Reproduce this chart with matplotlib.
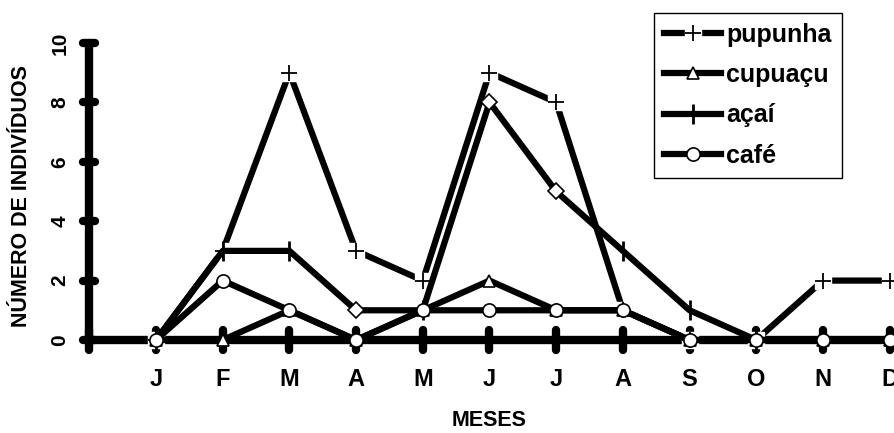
import matplotlib.pyplot as plt
from matplotlib.markers import MarkerStyle

months = ["J", "F", "M", "A", "M", "J", "J", "A", "S", "O", "N", "D"]
pupunha = [0, 3, 9, 3, 2, 9, 8, 1, 0, 0, 2, 2]
cupuacu = [0, 0, 1, 0, 1, 2, 1, 1, 0, 0, 0, 0]
acai = [0, 3, 3, 1, 1, 8, 5, 3, 1, 0, 0, 0]
cafe = [0, 2, 1, 0, 1, 1, 1, 1, 0, 0, 0, 0]
yticks = [0, 2, 4, 6, 8, 10]

# points of the açaí line drawn with a diamond in the original
acai_diamonds = [3, 5, 6]


def main():
    plt.rcParams["font.family"] = ["Liberation Sans", "DejaVu Sans"]
    plt.rcParams["font.weight"] = "bold"

    fig = plt.figure(figsize=(8.95, 4.33), dpi=100)
    ax = fig.add_axes([0.0998, 0.2148, 0.9002, 0.686])

    x = list(range(1, len(months) + 1))
    lw = 4.5

    # pupunha: line with a white gap under each "+"
    p_line, = ax.plot(x, pupunha, color="black", lw=lw, marker="s", ms=12,
                      mfc="white", mec="white", clip_on=False, zorder=3)
    p_mark, = ax.plot(x, pupunha, ls="none", marker="+", ms=11, mew=1.3,
                      color="black", clip_on=False, zorder=3)

    c_line, = ax.plot(x, cupuacu, color="black", lw=lw, marker="^", ms=8,
                      mfc="white", mec="black", mew=1.2, clip_on=False, zorder=3)

    ticks_idx = [i for i in range(len(acai)) if i not in acai_diamonds]
    a_line, = ax.plot(x, acai, color="black", lw=lw, marker="|", ms=14,
                      mew=2.0, markevery=ticks_idx, clip_on=False, zorder=3)
    ax.plot(x, acai, ls="none", marker="D", ms=8, mfc="white", mec="black",
            mew=1.2, markevery=acai_diamonds, clip_on=False, zorder=3)

    f_line, = ax.plot(x, cafe, color="black", lw=lw, marker="o", ms=9.5,
                      mfc="white", mec="black", mew=1.2, clip_on=False, zorder=4)

    ax.set_xlim(0, 12.08)
    ax.set_ylim(0, 10)
    ax.set_xticks(range(0, len(months) + 1))
    ax.set_xticklabels([""] + months, fontsize=17, fontweight="bold")
    ax.set_yticks(yticks)
    ax.set_yticklabels([str(v) for v in yticks], fontsize=15,
                       fontweight="bold", rotation=90, va="center")

    for side in ["top", "right"]:
        ax.spines[side].set_visible(False)
    for side in ["left", "bottom"]:
        ax.spines[side].set_linewidth(6)
        ax.spines[side].set_capstyle("round")
    ax.tick_params(axis="x", direction="inout", length=14, width=6, pad=13)
    ax.tick_params(axis="y", direction="inout", length=9, width=6, pad=10)

    # rounded tick ends like the original
    for tick in ax.xaxis.get_major_ticks():
        tick.tick1line.set_marker(MarkerStyle("|", capstyle="round"))
    for tick in ax.yaxis.get_major_ticks():
        tick.tick1line.set_marker(MarkerStyle("_", capstyle="round"))

    fig.text(22 / 895, 1 - 196 / 433, "NÚMERO DE INDIVÍDUOS", rotation=90,
             ha="center", va="center", fontsize=15.5, fontweight="bold")
    fig.text(489 / 895, 1 - 421 / 433, "MESES", ha="center", va="center",
             fontsize=15.5, fontweight="bold")

    leg = ax.legend([(p_line, p_mark), c_line, a_line, f_line],
                    ["pupunha", "cupuaçu", "açaí", "café"],
                    loc="upper left", bbox_to_anchor=(0.7307, 0.970),
                    bbox_transform=fig.transFigure, borderaxespad=0,
                    fontsize=18, handlelength=2.3, handletextpad=0.2,
                    borderpad=0.4, labelspacing=0.65, fancybox=False,
                    framealpha=1, edgecolor="black", numpoints=1)
    leg.get_frame().set_linewidth(1.0)
    for t in leg.get_texts():
        t.set_fontweight("bold")

    fig.savefig("out.png", dpi=100)


if __name__ == "__main__":
    main()
